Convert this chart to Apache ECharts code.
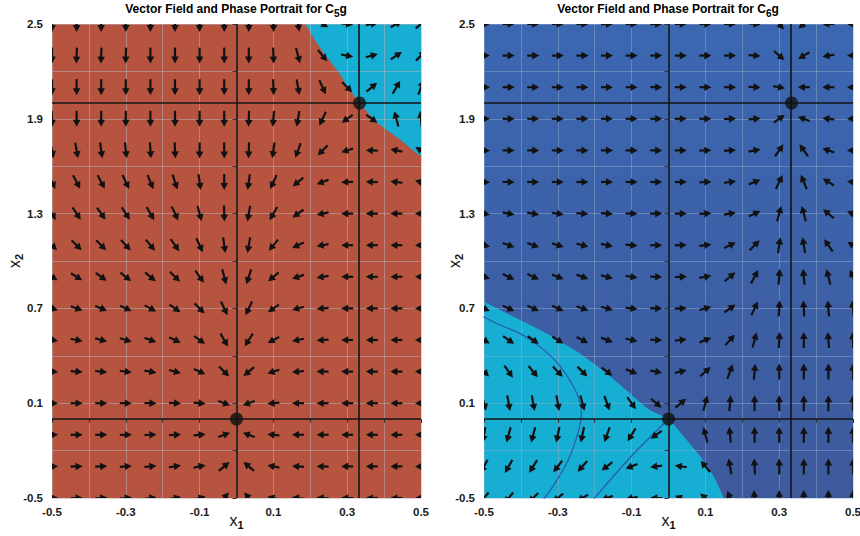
<!DOCTYPE html>
<html><head><meta charset="utf-8">
<script src="https://cdn.jsdelivr.net/npm/echarts@6/dist/echarts.min.js"></script>
<style>html,body{margin:0;padding:0;background:#fff}#c{width:860px;height:536px}</style>
</head><body><div id="c"></div>
<script>
// ---- data ----
const xCols = [-0.5, -0.4333, -0.3667, -0.3, -0.2333, -0.1667, -0.1, -0.0333, 0.0333, 0.1, 0.1667, 0.2333, 0.3, 0.3667, 0.4333, 0.5];
const yRows = [2.5, 2.3, 2.1, 1.9, 1.7, 1.5, 1.3, 1.1, 0.9, 0.7, 0.5, 0.3, 0.1, -0.1, -0.3, -0.5];
const xTickLabels = ['-0.5', '-0.3', '-0.1', '0.1', '0.3', '0.5'];
const yTickLabels = ['-0.5', '0.1', '0.7', '1.3', '1.9', '2.5'];
const equilX = [0, 1 / 3];
const equilY = [0, 2];

// arrow directions (degrees on screen, counter-clockwise from +x), rows top (y=2.5) to bottom (y=-0.5)
const c5Angles = [
  [-90,-90,-90,-90,-90,-90,-90,-90,-90,-88,-80,-30,-5,10,30,40],
  [-90,-92,-92,-92,-90,-90,-90,-90,-90,-88,-75,-50,-10,15,35,45],
  [-90,-90,-90,-90,-90,-90,-90,-90,-90,-88,-80,-65,-45,40,60,70],
  [-88,-90,-90,-90,-90,-90,-90,-90,-92,-95,-100,-115,-145,-35,105,95],
  [-78,-80,-82,-84,-86,-88,-90,-90,-92,-98,-110,-135,-162,178,168,150],
  [-65,-62,-62,-65,-68,-72,-82,-90,-98,-115,-140,-160,-178,178,172,165],
  [-60,-57,-55,-57,-60,-65,-75,-88,-100,-120,-145,-168,180,180,180,178],
  [-45,-45,-45,-47,-50,-55,-65,-82,-100,-130,-155,-170,180,180,180,180],
  [-32,-32,-35,-37,-40,-45,-55,-75,-108,-140,-162,-172,180,180,180,180],
  [-18,-20,-22,-25,-28,-35,-45,-65,-115,-145,-165,-175,180,180,180,180],
  [-10,-12,-15,-17,-20,-25,-35,-60,-122,-152,-168,-176,180,180,180,180],
  [-3,-5,-6,-8,-10,-15,-25,-45,-140,-162,-174,180,180,180,180,180],
  [0,0,0,-1,-2,-3,-6,-20,-160,-175,180,180,180,180,180,180],
  [0,0,0,1,2,3,6,20,160,175,180,180,180,180,180,180],
  [2,2,3,4,6,8,12,40,140,168,175,178,180,180,180,180],
  [3,3,4,6,8,10,15,50,130,165,172,176,178,180,180,180]
];
const c6Angles = [
  [0,0,0,0,0,0,0,0,0,0,0,-5,-50,-140,180,180],
  [0,0,0,0,0,0,0,0,0,0,0,-5,-40,-150,-170,180],
  [0,0,0,0,0,0,0,0,0,0,0,-3,-10,180,180,180],
  [0,0,0,0,0,0,0,0,0,0,2,5,35,160,175,180],
  [0,0,0,0,0,0,0,0,0,2,5,12,55,125,160,178],
  [-3,-2,0,0,0,0,0,0,0,3,8,22,65,112,148,172],
  [-10,-12,-10,-8,-5,-4,-2,0,0,3,10,25,75,105,140,160],
  [-15,-20,-20,-17,-15,-12,-5,0,2,6,25,45,82,100,125,150],
  [-18,-25,-25,-22,-20,-15,-10,-2,2,10,40,62,85,95,105,115],
  [-25,-25,-25,-25,-20,-15,-8,-2,3,15,35,65,86,93,95,95],
  [-32,-35,-35,-32,-27,-22,-12,-3,6,22,48,75,87,90,95,92],
  [-45,-55,-50,-47,-45,-37,-22,-10,12,42,70,85,90,90,90,90],
  [-75,-80,-80,-80,-75,-70,-55,-40,40,75,85,90,90,90,90,90],
  [-100,-105,-105,-102,-102,-110,-122,-145,null,105,95,90,90,90,90,90],
  [-118,-120,-122,-127,-132,-142,-158,-172,172,130,100,93,90,90,90,90],
  [-130,-130,-135,-140,-150,-160,-170,178,160,140,110,95,90,90,90,90]
];

// basin boundaries
const c5BasinX = [0.186, 0.215, 0.245, 0.275, 0.305, 0.333, 0.384, 0.439, 0.484, 0.5];
const c5BasinY = [2.5, 2.39, 2.29, 2.2, 2.09, 2.0, 1.871, 1.777, 1.69, 1.665];
const c6BasinX = [-0.5, -0.421, -0.331, -0.241, -0.168, -0.105, -0.051, 0, 0.042, 0.087, 0.123, 0.15];
const c6BasinY = [0.742, 0.648, 0.542, 0.416, 0.289, 0.163, 0.057, 0, -0.112, -0.239, -0.365, -0.5];

// trajectories drawn in the C6g portrait
const c6TrajAX = [-0.502, -0.457, -0.403, -0.349, -0.304, -0.268, -0.245, -0.236, -0.241, -0.254, -0.276, -0.308, -0.34];
const c6TrajAY = [0.647, 0.595, 0.542, 0.458, 0.363, 0.247, 0.141, 0.036, -0.049, -0.154, -0.28, -0.407, -0.513];
const c6TrajBX = [0, -0.102, -0.205];
const c6TrajBY = [0, -0.239, -0.513];

// ---- build ----
const FONT = 'Liberation Sans, Arial, sans-serif';
function arrowData(angles) {
  const out = [];
  angles.forEach((row, r) => row.forEach((a, c) => {
    if (a !== null) out.push([xCols[c], yRows[r], a]);
  }));
  return out;
}
function pairs(xs, ys) { return xs.map((x, i) => [x, ys[i]]); }

function renderArrow(params, api) {
  const c = api.coord([api.value(0), api.value(1)]);
  const rad = api.value(2) * Math.PI / 180;
  const ux = Math.cos(rad), uy = -Math.sin(rad);
  const L = Math.sqrt(Math.pow(12 * ux, 2) + Math.pow(16 * uy, 2));
  const hx = c[0] + ux * L / 2, hy = c[1] + uy * L / 2;
  const tx = c[0] - ux * L / 2, ty = c[1] - uy * L / 2;
  const hl = 7, hw = 3.8;
  const bx = hx - ux * hl, by = hy - uy * hl;
  const px = -uy, py = ux;
  return {
    type: 'group',
    children: [
      { type: 'line', shape: { x1: tx, y1: ty, x2: bx + ux, y2: by + uy }, style: { stroke: '#121212', lineWidth: 2.2 } },
      { type: 'polygon', shape: { points: [[hx, hy], [bx + px * hw, by + py * hw], [bx - px * hw, by - py * hw]] }, style: { fill: '#121212' } }
    ]
  };
}

const nameRich = {
  x: { fontFamily: FONT, fontSize: 16, color: '#111', verticalAlign: 'top', lineHeight: 16 },
  s: { fontFamily: FONT, fontSize: 11, fontWeight: 'bold', color: '#111', verticalAlign: 'top', lineHeight: 11, padding: [7, 0, 0, 0] }
};

function makeAxes(idx, gridColor) {
  const xa = {
    gridIndex: idx, type: 'value', min: -0.5, max: 0.5, interval: 0.1, z: 3,
    axisLine: { show: false },
    axisTick: { show: true, length: 4, lineStyle: { color: '#333' } },
    splitLine: { show: true, lineStyle: { color: gridColor, width: 1 } },
    axisLabel: {
      margin: 8, fontFamily: FONT, fontWeight: 'bold', fontSize: 11.5, color: '#1a1a1a',
      formatter: v => { const s = (Math.round(v * 10) / 10).toFixed(1); return xTickLabels.includes(s) ? s : ''; }
    },
    name: '{x|x}{s|1}', nameLocation: 'middle', nameGap: 14, nameMoveOverlap: false,
    nameTextStyle: { rich: nameRich }
  };
  const ya = {
    gridIndex: idx, type: 'value', min: -0.5, max: 2.5, interval: 0.3, z: 3,
    axisLine: { show: false },
    axisTick: { show: true, length: 4, lineStyle: { color: '#333' } },
    splitLine: { show: true, lineStyle: { color: gridColor, width: 1 } },
    axisLabel: {
      margin: 9, fontFamily: FONT, fontWeight: 'bold', fontSize: 11.5, color: '#1a1a1a',
      formatter: v => { const s = (Math.round(v * 10) / 10).toFixed(1); return yTickLabels.includes(s) ? s : ''; }
    },
    name: '{x|x}{s|2}', nameLocation: 'middle', nameGap: idx === 0 ? 30 : 22, nameRotate: 90, nameMoveOverlap: false,
    nameTextStyle: { rich: nameRich }
  };
  return [xa, ya];
}

const [x0, y0] = makeAxes(0, 'rgba(185,175,185,0.55)');
const [x1, y1] = makeAxes(1, 'rgba(150,175,205,0.45)');

function equilSeries(idx) {
  return {
    type: 'scatter', xAxisIndex: idx, yAxisIndex: idx, z: 8, silent: true,
    symbol: 'circle', symbolSize: 13, itemStyle: { color: '#111' },
    data: pairs(equilX, equilY),
    markLine: {
      silent: true, symbol: ['none', 'none'], label: { show: false }, animation: false,
      lineStyle: { color: '#151515', width: 1.6, type: 'solid' },
      data: equilX.map(v => ({ xAxis: v })).concat(equilY.map(v => ({ yAxis: v })))
    }
  };
}

const titleRich = {
  t: { fontFamily: FONT, fontSize: 12, fontWeight: 'bold', color: '#111', verticalAlign: 'top', lineHeight: 14 },
  s: { fontFamily: FONT, fontSize: 10, fontWeight: 'bold', color: '#111', verticalAlign: 'top', lineHeight: 10, padding: [5, 0, 0, 0] }
};

const option = {
  animation: false,
  backgroundColor: '#ffffff',
  graphic: [
    { type: 'text', x: 236, y: 3, style: { text: '{t|Vector Field and Phase Portrait for C}{s|5}{t|g}', rich: titleRich, align: 'center' } },
    { type: 'text', x: 668, y: 3, style: { text: '{t|Vector Field and Phase Portrait for C}{s|6}{t|g}', rich: titleRich, align: 'center' } }
  ],
  grid: [
    { left: 52, top: 24, width: 369, height: 474, show: true, borderWidth: 0, backgroundColor: '#b7543f', containLabel: false, outerBoundsMode: 'none' },
    { left: 484, top: 24, width: 369, height: 474, show: true, borderWidth: 0, containLabel: false, outerBoundsMode: 'none',
      backgroundColor: { type: 'linear', x: 0, y: 0, x2: 0, y2: 1, colorStops: [{ offset: 0, color: '#3b67b1' }, { offset: 1, color: '#3e5a9d' }] } }
  ],
  xAxis: [x0, x1],
  yAxis: [y0, y1],
  series: [
    { type: 'line', xAxisIndex: 0, yAxisIndex: 0, z: 1, silent: true, symbol: 'none', smooth: 0.2,
      lineStyle: { width: 0 }, areaStyle: { color: '#17aed3', opacity: 1, origin: 'end' },
      data: pairs(c5BasinX, c5BasinY) },
    { type: 'line', xAxisIndex: 1, yAxisIndex: 1, z: 1, silent: true, symbol: 'none', smooth: 0.2,
      lineStyle: { width: 0 }, areaStyle: { color: '#17aed3', opacity: 1, origin: 'start' },
      data: pairs(c6BasinX, c6BasinY) },
    { type: 'line', xAxisIndex: 1, yAxisIndex: 1, z: 4, silent: true, symbol: 'none', smooth: 0.3,
      lineStyle: { width: 1.2, color: '#2c58a8' }, data: pairs(c6TrajAX, c6TrajAY) },
    { type: 'line', xAxisIndex: 1, yAxisIndex: 1, z: 4, silent: true, symbol: 'none', smooth: 0.3,
      lineStyle: { width: 1.2, color: '#2c58a8' }, data: pairs(c6TrajBX, c6TrajBY) },
    equilSeries(0),
    equilSeries(1),
    { type: 'custom', xAxisIndex: 0, yAxisIndex: 0, z: 6, clip: true, silent: true,
      renderItem: renderArrow, data: arrowData(c5Angles) },
    { type: 'custom', xAxisIndex: 1, yAxisIndex: 1, z: 6, clip: true, silent: true,
      renderItem: renderArrow, data: arrowData(c6Angles) }
  ]
};

const chart = echarts.init(document.getElementById('c'), null, { renderer: 'svg' });
chart.setOption(option);
</script>
</body></html>
